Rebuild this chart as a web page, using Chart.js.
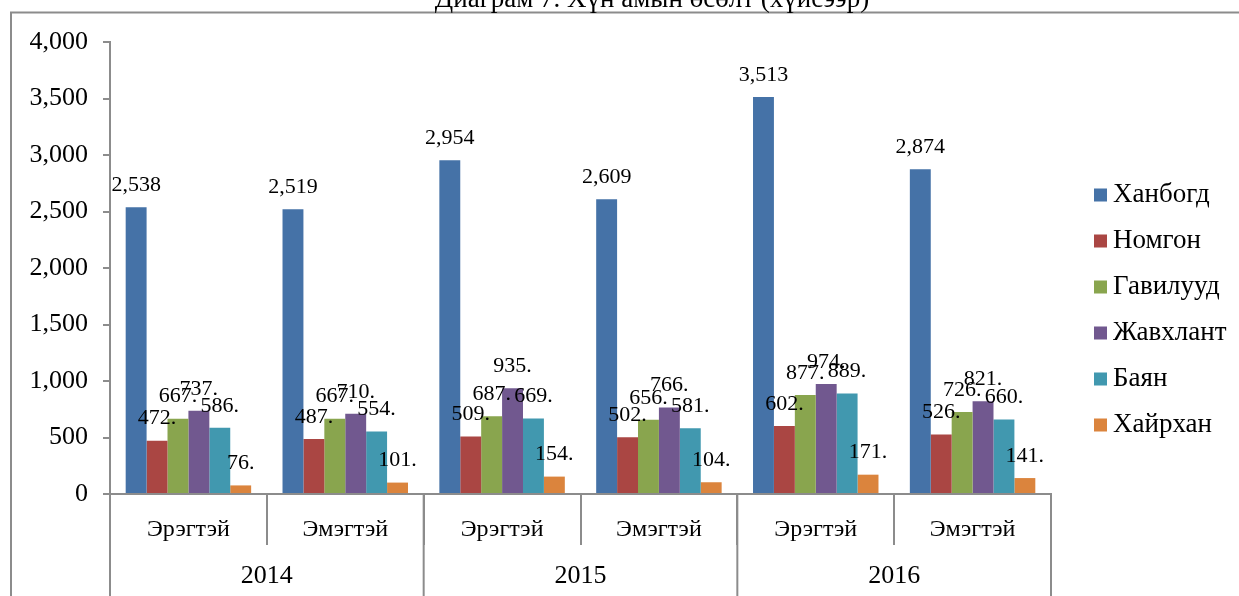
<!DOCTYPE html>
<html>
<head>
<meta charset="utf-8">
<script src="https://cdn.jsdelivr.net/npm/chart.js@4.4.0/dist/chart.umd.min.js"></script>
<style>
  html, body { margin: 0; padding: 0; background: #fff; }
  #wrap { width: 1239px; height: 596px; position: relative; }
</style>
</head>
<body>
<div id="wrap"><canvas id="popChart"></canvas></div>
<script>
// ---- data ----
const years = ["2014", "2015", "2016"];
const categories = ["Эрэгтэй", "Эмэгтэй", "Эрэгтэй", "Эмэгтэй", "Эрэгтэй", "Эмэгтэй"];
const seriesNames = ["Ханбогд", "Номгон", "Гавилууд", "Жавхлант", "Баян", "Хайрхан"];
const khanbogd = [2538, 2519, 2954, 2609, 3513, 2874];
const nomgon = [472, 487, 509, 502, 602, 526];
const gaviluud = [667, 667, 687, 656, 877, 726];
const javkhlant = [737, 710, 935, 766, 974, 821];
const bayan = [586, 554, 669, 581, 889, 660];
const khairkhan = [76, 101, 154, 104, 171, 141];
const yMax = 4000;
const yStep = 500;
const titleText = "Диаграм 7. Хүн амын өсөлт (хүйсээр)";

const seriesValues = [khanbogd, nomgon, gaviluud, javkhlant, bayan, khairkhan];
const seriesColors = ["#4572A7", "#AA4643", "#89A54E", "#71588F", "#4198AF", "#DB843D"];

const FONT = "'Liberation Serif', 'Times New Roman', serif";
const AXIS = "#8c8c8c";

/* --- frame, title, year row, legend and value labels --- */
const decorations = {
  id: "decorations",
  afterDatasetsDraw(chart) {
    const { ctx } = chart;
    ctx.save();
    ctx.fillStyle = "#000";
    ctx.font = "22px " + FONT;
    ctx.textAlign = "center";
    ctx.textBaseline = "middle";
    chart.data.datasets.forEach((ds, di) => {
      const meta = chart.getDatasetMeta(di);
      meta.data.forEach((bar, i) => {
        const v = ds.data[i];
        const txt = di === 0 ? v.toLocaleString("en-US") : v + ".";
        ctx.fillText(txt, bar.x, bar.y - 22);
      });
    });
    ctx.restore();
  },
  afterDraw(chart) {
    const { ctx } = chart;
    const xs = chart.scales.x;
    const bottom = xs.top;
    ctx.save();

    // year separators and labels
    const n = chart.data.labels.length;
    const bound = (k) => {
      if (k <= 0) return xs.left;
      if (k >= n) return xs.right;
      return (xs.getPixelForValue(k - 1) + xs.getPixelForValue(k)) / 2;
    };
    ctx.strokeStyle = AXIS;
    ctx.lineWidth = 2;
    const per = n / years.length;
    for (let y = 0; y <= years.length; y++) {
      const x = bound(y * per);
      ctx.beginPath();
      ctx.moveTo(x, bottom);
      ctx.lineTo(x, 596);
      ctx.stroke();
    }
    ctx.fillStyle = "#000";
    ctx.font = "26px " + FONT;
    ctx.textAlign = "center";
    ctx.textBaseline = "middle";
    years.forEach((yr, i) => {
      const x = (bound(i * per) + bound((i + 1) * per)) / 2;
      ctx.fillText(yr, x, 576);
    });

    // frame
    ctx.strokeStyle = AXIS;
    ctx.lineWidth = 2;
    ctx.beginPath();
    ctx.moveTo(1239, 12.5);
    ctx.lineTo(11, 12.5);
    ctx.lineTo(11, 596);
    ctx.stroke();

    // title (clipped at top)
    ctx.font = "27px " + FONT;
    ctx.textBaseline = "alphabetic";
    ctx.fillText(titleText, 652, 7);

    // legend
    ctx.textAlign = "left";
    ctx.textBaseline = "middle";
    ctx.font = "27px " + FONT;
    chart.data.datasets.forEach((ds, i) => {
      const cy = 195 + i * 46;
      ctx.fillStyle = ds.backgroundColor;
      ctx.fillRect(1094, cy - 6.5, 13, 13);
      ctx.fillStyle = "#000";
      ctx.fillText(ds.label, 1113, cy);
    });
    ctx.restore();
  },
};

new Chart(document.getElementById("popChart"), {
  type: "bar",
  data: {
    labels: categories,
    datasets: seriesNames.map((name, i) => ({
      label: name,
      data: seriesValues[i],
      backgroundColor: seriesColors[i],
      borderWidth: 0,
      barPercentage: 1,
      categoryPercentage: 0.8,
    })),
  },
  options: {
    responsive: true,
    maintainAspectRatio: false,
    animation: false,
    layout: { padding: { left: 0, right: 188, top: 42, bottom: 0 } },
    plugins: {
      legend: { display: false },
      title: { display: false },
      tooltip: { enabled: false },
    },
    scales: {
      x: {
        offset: true,
        grid: {
          display: true,
          drawOnChartArea: false,
          offset: true,
          tickLength: 51,
          color: AXIS,
          lineWidth: 2,
        },
        border: { display: true, color: AXIS, width: 2 },
        ticks: {
          color: "#000",
          font: { family: FONT, size: 24 },
          padding: -30,
          maxRotation: 0,
          autoSkip: false,
        },
        afterFit(scale) {
          scale.height = 102;
        },
      },
      y: {
        min: 0,
        max: yMax,
        grid: {
          drawOnChartArea: false,
          tickLength: 7,
          color: AXIS,
          lineWidth: 2,
        },
        border: { display: true, color: AXIS, width: 2 },
        ticks: {
          stepSize: yStep,
          color: "#000",
          font: { family: FONT, size: 26 },
          padding: 15,
          callback: (v) => Number(v).toLocaleString("en-US"),
        },
        afterFit(scale) {
          scale.width = 110;
        },
      },
    },
  },
  plugins: [decorations],
});
</script>
</body>
</html>
